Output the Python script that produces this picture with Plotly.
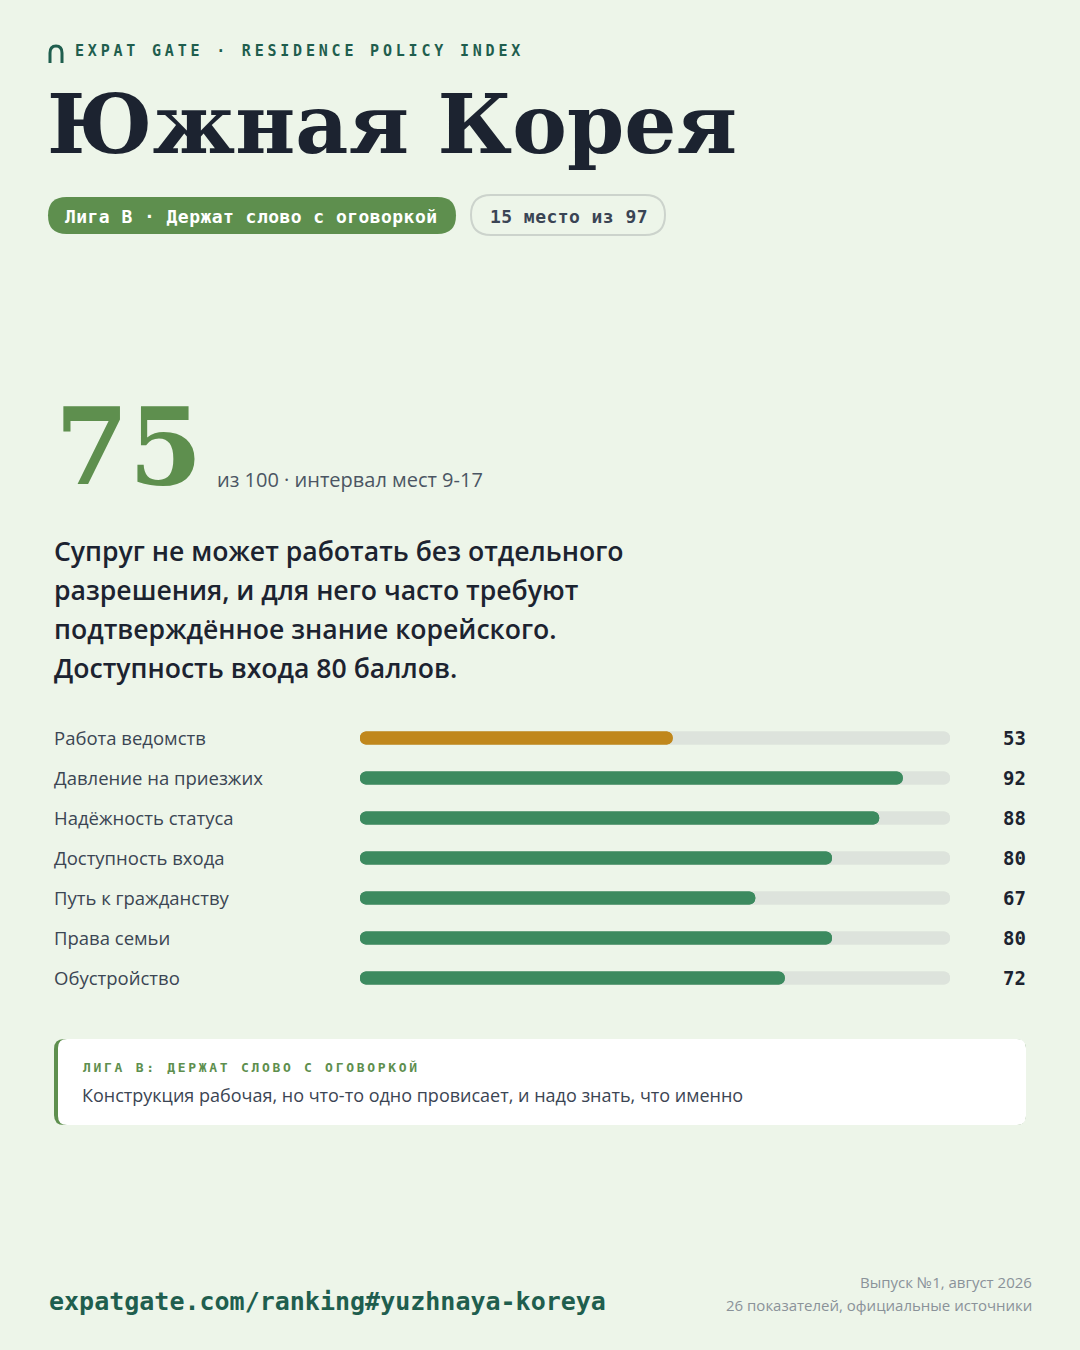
import plotly.graph_objects as go

W, H = 1080, 1350

# ---- data ----
brand = "EXPAT GATE · RESIDENCE POLICY INDEX"
country = "Южная Корея"
league_pill = "Лига B · Держат слово с оговоркой"
rank_pill = "15 место из 97"
score = 75
score_note = "из 100 · интервал мест 9-17"
summary_lines = [
    "Супруг не может работать без отдельного",
    "разрешения, и для него часто требуют",
    "подтверждённое знание корейского.",
    "Доступность входа 80 баллов.",
]
categories = [
    "Работа ведомств",
    "Давление на приезжих",
    "Надёжность статуса",
    "Доступность входа",
    "Путь к гражданству",
    "Права семьи",
    "Обустройство",
]
values = [53, 92, 88, 80, 67, 80, 72]
scale_max = [100, 100, 100, 100, 100, 100, 100]
callout_title = "ЛИГА B: ДЕРЖАТ СЛОВО С ОГОВОРКОЙ"
callout_text = "Конструкция рабочая, но что-то одно провисает, и надо знать, что именно"
footer_url = "expatgate.com/ranking#yuzhnaya-koreya"
footer_right = ["Выпуск №1, август 2026", "26 показателей, официальные источники"]

# ---- style ----
BG = "#EDF5E9"
INK = "#1C2330"
TEAL = "#1F5E4E"
PILL_GREEN = "#5E8F4E"
BAR_GREEN = "#3C8A5F"
BAR_AMBER = "#C0871C"
TRACK = "#DDE3DC"
LABEL = "#3B4553"
GREY = "#8A9299"
SANS = "Open Sans"
MONO = "DejaVu Sans Mono"
SERIF = "DejaVu Serif"


def px(x):
    return x / W


def py(y):
    return 1 - y / H


def rrect(x0, y0, x1, y1, r):
    pts = [
        ("M", x0 + r, y0), ("L", x1 - r, y0), ("Q", x1, y0, x1, y0 + r),
        ("L", x1, y1 - r), ("Q", x1, y1, x1 - r, y1), ("L", x0 + r, y1),
        ("Q", x0, y1, x0, y1 - r), ("L", x0, y0 + r), ("Q", x0, y0, x0 + r, y0),
    ]
    s = ""
    for p in pts:
        if p[0] == "Q":
            s += f"Q{px(p[1])},{py(p[2])} {px(p[3])},{py(p[4])} "
        else:
            s += f"{p[0]}{px(p[1])},{py(p[2])} "
    return s + "Z"


colors = [BAR_AMBER if v < 60 else BAR_GREEN for v in values]

fig = go.Figure()
# each bar drawn twice (forward from 0 and backward from its end) so both ends are rounded
fig.add_trace(go.Bar(y=categories, x=scale_max, base=[0] * len(scale_max), orientation="h", width=0.33,
                     marker=dict(color=TRACK, cornerradius="50%", line_width=0),
                     hoverinfo="skip", showlegend=False))
fig.add_trace(go.Bar(y=categories, x=[-m for m in scale_max], base=scale_max, orientation="h", width=0.33,
                     marker=dict(color=TRACK, cornerradius="50%", line_width=0),
                     hoverinfo="skip", showlegend=False))
fig.add_trace(go.Bar(y=categories, x=values, base=[0] * len(values), orientation="h", width=0.33,
                     marker=dict(color=colors, cornerradius="50%", line_width=0),
                     hoverinfo="skip", showlegend=False))
fig.add_trace(go.Bar(y=categories, x=[-v for v in values], base=values, orientation="h", width=0.33,
                     marker=dict(color=colors, cornerradius="50%", line_width=0),
                     hoverinfo="skip", showlegend=False))

ann = []


def text(x, y, t, size, color, family=SANS, xanchor="left", weight="normal", yref="paper", xref="paper"):
    ann.append(dict(x=x, y=y, xref=xref, yref=yref, text=t, showarrow=False,
                    xanchor=xanchor, yanchor="middle", align=xanchor if xanchor != "center" else "center",
                    font=dict(size=size, color=color, family=family, weight=weight)))


# header
text(px(73), py(51), f'<span style="letter-spacing:3.8px">{brand}</span>', 15, TEAL, MONO, weight="bold")
text(px(45), py(124), country, 82, INK, SERIF, weight="bold")
text(px(63), py(216), f'<span style="letter-spacing:0.45px">{league_pill}</span>', 18, "#FFFFFF", MONO, weight="bold")
text(px(488), py(216), f'<span style="letter-spacing:0.45px">{rank_pill}</span>', 18, "#3A4454", MONO, weight="bold")

# score
text(px(53), py(446), str(score), 106, PILL_GREEN, SERIF, weight="bold")
text(px(215), py(479), score_note, 20, "#4B5563", SANS)

for i, line in enumerate(summary_lines):
    text(px(52), py(551 + i * 39), line, 26.6, INK, SANS, weight=600)

# bar labels and values
for c, v in zip(categories, values):
    text(px(52), c, c, 18.5, LABEL, SANS, yref="y")
    text(px(1028), c, str(v), 19, INK, MONO, xanchor="right", weight="bold", yref="y")

# callout
text(px(81), py(1067), f'<span style="letter-spacing:2.7px">{callout_title}</span>', 13, PILL_GREEN, MONO, weight="bold")
text(px(80), py(1095), callout_text, 18, LABEL, SANS)

# footer
text(px(47), py(1301), footer_url, 25, TEAL, MONO, weight="bold")
text(px(1034), py(1282), footer_right[0], 15, GREY, SANS, xanchor="right")
text(px(1034), py(1305), footer_right[1], 15, GREY, SANS, xanchor="right")

shapes = [
    dict(type="path", xref="paper", yref="paper", path=rrect(48, 197, 456, 234, 18.5),
         fillcolor=PILL_GREEN, line=dict(width=0), layer="below"),
    dict(type="path", xref="paper", yref="paper", path=rrect(471, 195, 665, 235, 20),
         fillcolor="rgba(0,0,0,0)", line=dict(width=2, color="#CCD3CC"), layer="below"),
    dict(type="path", xref="paper", yref="paper", path=rrect(54, 1039, 1026, 1125, 10),
         fillcolor=PILL_GREEN, line=dict(width=0), layer="below"),
    dict(type="path", xref="paper", yref="paper", path=rrect(58, 1039, 1026, 1125, 9),
         fillcolor="#FFFFFF", line=dict(width=0), layer="below"),
    # logo arch
    dict(type="path", xref="paper", yref="paper",
         path=f"M{px(50)},{py(63)} L{px(50)},{py(53)} Q{px(50)},{py(46)} {px(56)},{py(46)} "
              f"Q{px(62)},{py(46)} {px(62)},{py(53)} L{px(62)},{py(63)}",
         line=dict(width=3, color=TEAL)),
]

fig.update_layout(
    width=W, height=H, margin=dict(l=0, r=0, t=0, b=0),
    paper_bgcolor=BG, plot_bgcolor="rgba(0,0,0,0)",
    barmode="overlay", annotations=ann, shapes=shapes,
    xaxis=dict(domain=[px(360), px(950)], range=[0, 100], visible=False, fixedrange=True),
    yaxis=dict(domain=[py(998), py(718)], categoryorder="array", categoryarray=categories,
               range=[6.5, -0.5], visible=False, fixedrange=True),
)

fig.write_html("out.html", config={"displayModeBar": False},
               post_script="document.body.style.margin='0';document.body.style.padding='0';")
